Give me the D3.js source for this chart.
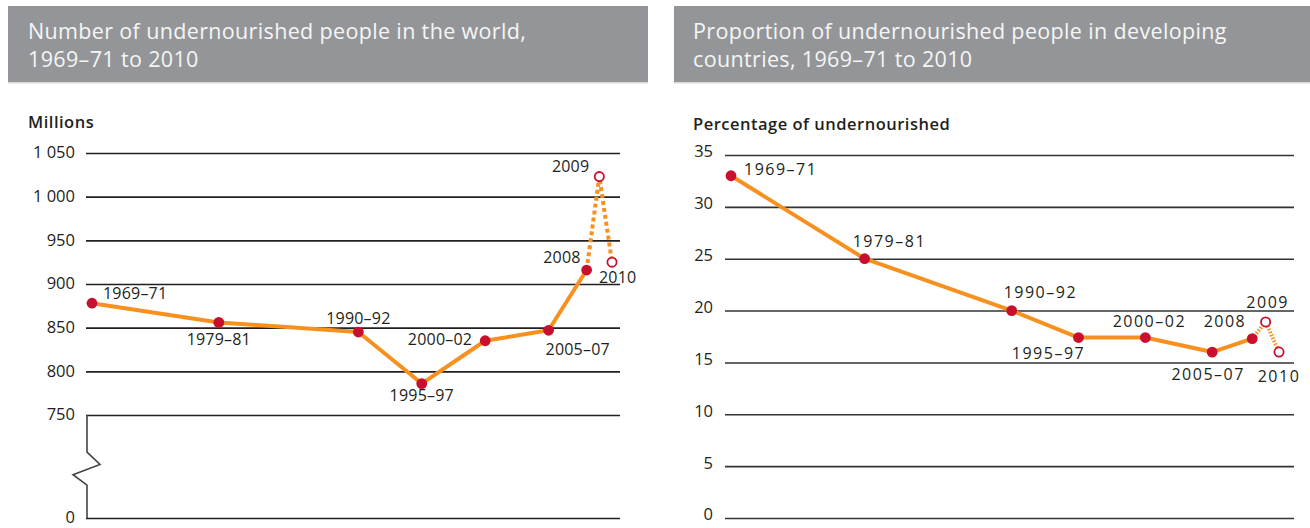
<!DOCTYPE html>
<html>
<head>
<meta charset="utf-8">
<script src="https://cdn.jsdelivr.net/npm/d3@7"></script>
<style>
body { margin: 0; background: #fff; }
text { font-family: "Open Sans", sans-serif; fill: #231f20; }
</style>
</head>
<body>
<svg id="chart" width="1310" height="528"></svg>
<script>
// data
var periods = ["1969–71", "1979–81", "1990–92", "1995–97", "2000–02", "2005–07", "2008", "2009", "2010"];
var startYears = [1969, 1979, 1990, 1995, 2000, 2005, 2008, 2009, 2010];
var estimate = [false, false, false, false, false, false, false, true, true];
var millions = [878, 856, 845, 786, 835, 847, 916, 1023, 925];
var percent = [33, 25, 20, 17.4, 17.4, 16, 17.3, 18.9, 16];
var millionsTicks = [0, 750, 800, 850, 900, 950, 1000, 1050];
var percentTicks = [0, 5, 10, 15, 20, 25, 30, 35];

var titleLeft = ["Number of undernourished people in the world,", "1969–71 to 2010"];
var titleRight = ["Proportion of undernourished people in developing", "countries, 1969–71 to 2010"];

var orange = "#f7901e", red = "#c8102e";

// where each point label sits relative to its point
var labelsLeft = {
  "1969–71": [11, -10, "start"], "1979–81": [0, 17, "middle"], "1990–92": [0, -14, "middle"],
  "1995–97": [0, 12, "middle"], "2000–02": [-13, -1, "end"], "2005–07": [-3, 19, "start"],
  "2008": [-6, -13, "end"], "2009": [-10, -10, "end"], "2010": [-13, 15, "start"]
};
var labelsRight = {
  "1969–71": [13, -6, "start"], "1979–81": [-12, -17, "start"], "1990–92": [-8, -18, "start"],
  "1995–97": [-30, 16, "middle"], "2000–02": [4, -16, "middle"], "2005–07": [-4, 22, "middle"],
  "2008": [-6, -17, "end"], "2009": [2, -20, "middle"], "2010": [0, 24, "middle"]
};

var svg = d3.select("#chart");
var fmt = d3.formatLocale({decimal: ".", thousands: " ", grouping: [3], currency: ["", ""]}).format(",d");

function header(x, w, lines, tx) {
  svg.append("rect").attr("x", x).attr("y", 6).attr("width", w).attr("height", 76).attr("fill", "#939598");
  svg.append("rect").attr("x", x).attr("y", 82).attr("width", w).attr("height", 1.5).attr("fill", "#d9d9da");
  lines.forEach(function (l, i) {
    svg.append("text").attr("x", tx).attr("y", 39 + i * 28)
      .style("font-size", "21.5px").style("letter-spacing", "0.35px")
      .style("fill", "#f5f5f5").text(l);
  });
}

function panel(opt) {
  var pts = periods.map(function (p, i) {
    return {label: p, year: startYears[i], value: opt.values[i], est: estimate[i]};
  });
  var x = opt.x, y = opt.y;
  var g = svg.append("g");

  var axis = g.append("g")
    .attr("transform", "translate(" + opt.left + ",0)")
    .call(d3.axisLeft(y).tickValues(opt.ticks).tickSize(-(opt.right - opt.left))
      .tickPadding(opt.pad).tickFormat(opt.format));
  axis.select(".domain").remove();
  axis.selectAll("line").attr("stroke", opt.grid).attr("stroke-width", 1.6);
  axis.selectAll("text").style("font-size", "16.5px").attr("fill", "#231f20")
    .attr("dy", opt.tickDy).attr("font-family", null);

  svg.append("text").attr("x", opt.unitX).attr("y", opt.unitY)
    .style("font-size", "16.5px").style("font-weight", 600).style("letter-spacing", "0.5px")
    .text(opt.unit);

  if (opt.brk) opt.brk(g);

  var line = d3.line().x(function (d) { return x(d.year); }).y(function (d) { return y(d.value); });
  var solid = pts.filter(function (d, i) { return i <= 6; });
  var dotted = pts.filter(function (d, i) { return i >= 6; });

  g.append("path").datum(solid).attr("d", line).attr("fill", "none")
    .attr("stroke", orange).attr("stroke-width", 4).attr("stroke-linejoin", "round");
  g.append("path").datum(dotted).attr("d", line).attr("fill", "none")
    .attr("stroke", orange).attr("stroke-width", opt.dotW).attr("stroke-dasharray", opt.dash);

  g.selectAll("circle").data(pts).enter().append("circle")
    .attr("cx", function (d) { return x(d.year); })
    .attr("cy", function (d) { return y(d.value); })
    .attr("r", function (d) { return d.est ? 4.6 : 5.4; })
    .attr("fill", function (d) { return d.est ? "#fff" : red; })
    .attr("stroke", red)
    .attr("stroke-width", function (d) { return d.est ? 1.8 : 0; });

  g.selectAll(".lbl").data(pts).enter().append("text")
    .attr("class", "lbl")
    .attr("x", function (d) { return x(d.year) + opt.labels[d.label][0]; })
    .attr("y", function (d) { return y(d.value) + opt.labels[d.label][1]; })
    .attr("dy", "0.35em")
    .attr("text-anchor", function (d) { return opt.labels[d.label][2]; })
    .style("font-size", opt.lblSize)
    .style("letter-spacing", opt.spacing)
    .text(function (d) { return d.label; });
}

header(8, 640, titleLeft, 28);
header(674, 636, titleRight, 693);

var yLeft = d3.scaleLinear().domain([0, 750, 1050]).range([518, 415, 153]);
panel({
  values: millions, ticks: millionsTicks, format: fmt,
  x: d3.scaleLinear().domain([1969, 2010]).range([92, 612]),
  y: yLeft,
  left: 86, right: 620, pad: 11, tickDy: "0.3em", grid: "#231f20",
  unit: "Millions", unitX: 28, unitY: 128,
  labels: labelsLeft, lblSize: "16px", spacing: "0.2px", dash: "4,3", dotW: 4,
  brk: function (g) {
    var a = yLeft(750), b = yLeft(0), h = b - a;
    g.append("rect").attr("x", 80).attr("y", a + 2).attr("width", 8).attr("height", h - 4).attr("fill", "#fff");
    g.append("path")
      .attr("d", d3.line()([[87, a], [87, a + h * 0.36], [100, a + h * 0.48], [73, a + h * 0.58],
        [87, a + h * 0.68], [87, b]]))
      .attr("fill", "none").attr("stroke", "#444").attr("stroke-width", 1.6);
  }
});

panel({
  values: percent, ticks: percentTicks, format: d3.format("d"),
  x: d3.scaleLinear().domain([1969, 2010]).range([731, 1279]),
  y: d3.scaleLinear().domain([0, 35]).range([518, 155]),
  left: 725, right: 1294, pad: 12, tickDy: "0.12em", grid: "#333",
  unit: "Percentage of undernourished", unitX: 693, unitY: 130,
  labels: labelsRight, lblSize: "16px", spacing: "1.5px", dash: "1.6,1.6", dotW: 4
});
</script>
</body>
</html>
